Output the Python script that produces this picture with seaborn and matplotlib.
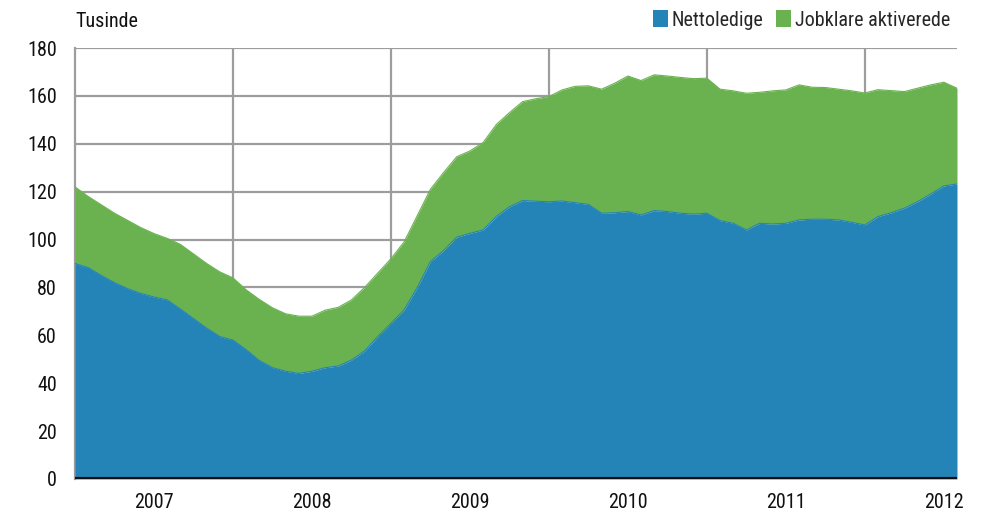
import numpy as np
import pandas as pd
import matplotlib
matplotlib.use("Agg")
import matplotlib.pyplot as plt
from matplotlib.patches import Patch
from matplotlib import font_manager
import seaborn as sns

# Monthly data, Jan 2007 - Aug 2012 (thousands)
months = pd.date_range("2007-01-01", periods=68, freq="MS")
nettoledige = [90, 88.3, 85, 82, 79.5, 77.5, 76, 74.8, 71, 67, 63, 59.5,
               58, 54, 49.5, 46.5, 45, 44.1, 45, 46.5, 47.2, 49.7, 53.5, 59.5,
               65, 70.6, 80, 90.8, 95.4, 101, 102.6, 104, 109.6, 113.7, 116.3, 116,
               115.8, 116.1, 115.4, 114.7, 111, 111.2, 111.7, 110.3, 112.1, 111.7, 111, 110.6,
               111, 107.9, 106.8, 104, 106.8, 106.5, 106.8, 108.2, 108.5, 108.5, 108.2, 107.2,
               106.1, 109.6, 111.2, 113.1, 115.8, 119, 122.4, 123.2]
jobklare = [32, 29.7, 29.5, 29, 28.5, 27.5, 26.5, 25.7, 27, 27, 27, 27,
            26, 25, 25.5, 25, 24, 23.9, 23, 24, 24.5, 25.1, 26.5, 26.5,
            27, 28.4, 30, 30.2, 32.6, 33.6, 34.4, 36.5, 38.4, 39.3, 41.3, 42.8,
            43.9, 46.4, 48.6, 49.5, 51.8, 54.1, 56.6, 56.1, 56.7, 56.6, 56.7, 56.6,
            56.4, 54.9, 55.3, 57.1, 54.7, 55.6, 55.7, 56.4, 55.1, 55, 54.6, 54.9,
            55.1, 53, 51, 48.7, 47.4, 45.6, 43.3, 40]
years = ["2007", "2008", "2009", "2010", "2011", "2012"]
series_names = ["Nettoledige", "Jobklare aktiverede"]
colors = ["#2484b8", "#6ab24f"]

sns.set_theme(style="white")
available = {f.name for f in font_manager.fontManager.ttflist}
fams = [f for f in ["Liberation Sans Narrow", "DejaVu Sans Condensed", "Roboto Condensed",
                    "Open Sans Condensed", "DejaVu Sans"] if f in available]
plt.rcParams["font.family"] = fams
plt.rcParams["font.stretch"] = "condensed"

df = pd.DataFrame({"idx": np.arange(len(months)),
                   "netto": nettoledige,
                   "total": np.array(nettoledige) + np.array(jobklare)})

fig = plt.figure(figsize=(9.98, 5.19), dpi=100)
ax = fig.add_axes([75/998, 1-479/519, (957-75)/998, (479-48)/519])

ax.fill_between(df["idx"], 0, df["netto"], color=colors[0], lw=0, zorder=3)
ax.fill_between(df["idx"], df["netto"], df["total"], color=colors[1], lw=0, zorder=3)
sns.lineplot(data=df, x="idx", y="total", ax=ax, color=colors[1], lw=0.8, zorder=3)
sns.lineplot(data=df, x="idx", y="netto", ax=ax, color=colors[0], lw=0.8, zorder=3)

ax.set_xlim(0, 67)
ax.set_ylim(0, 180)
ax.set_yticks(np.arange(0, 181, 20))
ax.set_xticks([6 + 12*k for k in range(len(years))])
ax.set_xticklabels(years)
ax.grid(False)
for v in np.arange(20, 181, 20):
    ax.axhline(v, color="#9d9d9d", lw=1.6, zorder=1)
for v in [12*k for k in range(1, 6)]:
    ax.axvline(v, color="#9d9d9d", lw=1.6, zorder=1)
ax.axhline(0, color="#111111", lw=3, zorder=5)

for s in ["top", "right", "bottom"]:
    ax.spines[s].set_visible(False)
ax.spines["left"].set_color("#9d9d9d")
ax.spines["left"].set_linewidth(1.6)
ax.tick_params(axis="both", which="both", length=0, labelsize=14.5, colors="#111111")
ax.tick_params(axis="y", pad=13)
ax.tick_params(axis="x", pad=10)
ax.set_xlabel("")
ax.set_ylabel("")

fig.text(75/998, 1-22/519, "Tusinde", fontsize=14.5, ha="left", va="center", color="#111111")

handles = [Patch(facecolor=c, edgecolor="none") for c in colors]
leg = fig.legend(handles, series_names, loc="center right", bbox_to_anchor=(958/998, 1-20/519),
                 ncol=2, frameon=False, fontsize=14.5, handlelength=0.75, handleheight=0.85,
                 handletextpad=0.2, columnspacing=0.6, borderaxespad=0)

fig.savefig("out.png", dpi=100)
